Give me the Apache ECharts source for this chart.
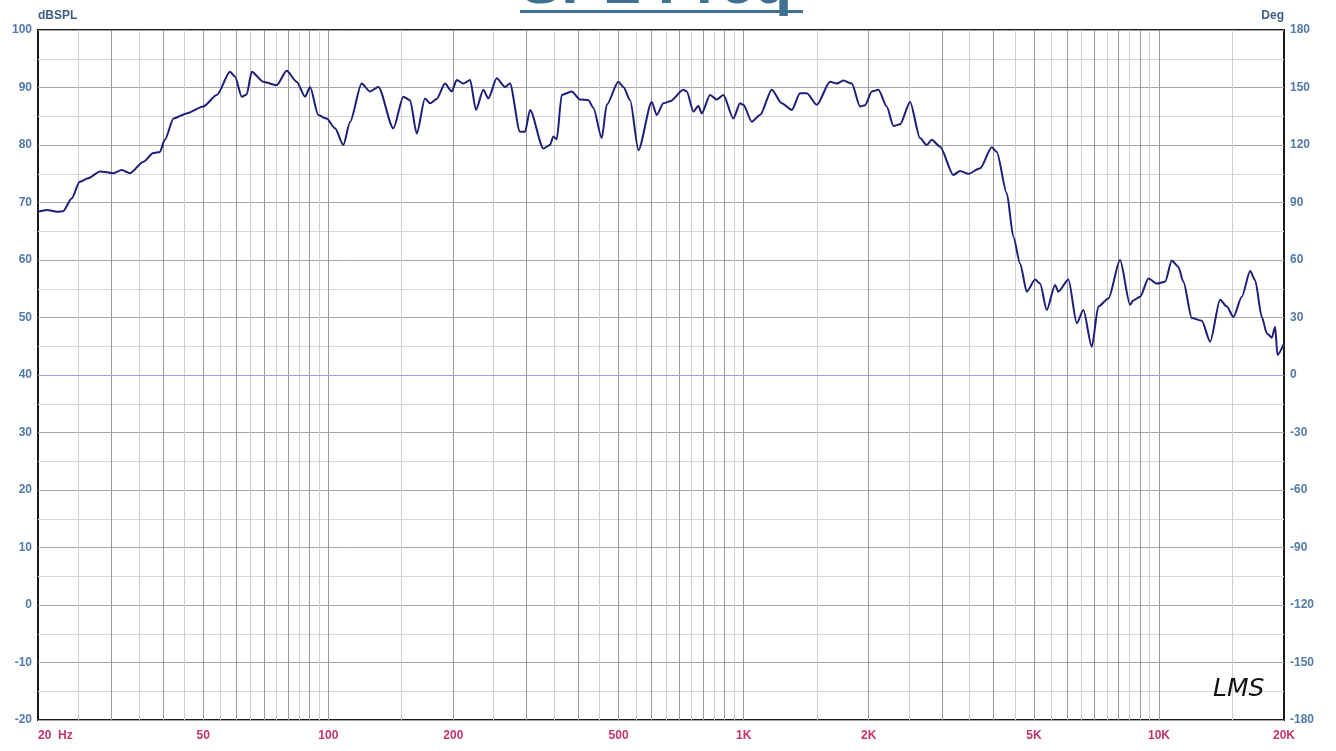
<!DOCTYPE html>
<html><head><meta charset="utf-8">
<script src="https://cdn.jsdelivr.net/npm/echarts@6/dist/echarts.min.js"></script>
<style>html,body{margin:0;padding:0;background:#fff}#c{width:1336px;height:751px}</style>
</head><body><div id="c"></div>
<script>
// Frequency response (Hz) and SPL (dB)
const freqHz = [20,21,22.2,23,24.1,25.2,26.4,28.2,30.4,31.8,33.3,35.9,37.9,39.3,40.4,42.4,45.6,50,53.9,58,59.6,61.9,63.6,65.4,69.7,75.1,79.4,83.9,87.9,90.4,94.6,99.1,103.8,108.7,112.8,120.3,126,132,143.4,151.6,157.3,163.3,170.9,175.8,182.4,191,198.2,203.8,211.4,219.5,226.7,236.2,242.8,254.4,266.4,273.8,289.4,297.6,306,329.4,341.8,348.2,354.8,364.8,385.6,403.8,422.8,434.6,455.4,468.2,499.2,513.4,533,558,600.8,617.8,640.8,665,715.8,729.6,756.8,778,792.8,830.2,861.6,893.6,944.6,980.2,998.4,1046,1095,1169,1235,1306,1367,1419,1500,1615,1676,1738,1821,1907,1960,2035,2111,2211,2294,2380,2516,2659,2760,2837,2971,3199,3320,3477,3709,3958,4069,4301,4461,4630,4805,5032,5173,5368,5621,5726,6052,6341,6577,6890,7147,7555,8060,8520,8679,9007,9431,9880,10345,10736,11136,11450,11996,12681,13278,14034,14567,15110,15830,16576,17041,17685,18183,18693,19041,19284,20000];
const splDb = [68.4,68.7,68.4,68.5,70.7,73.6,74.2,75.4,75.1,75.65,75.1,77.1,78.6,78.8,80.9,84.6,85.5,86.7,88.7,92.75,91.9,88.4,88.8,92.75,91.0,90.4,92.9,91.0,88.4,90.1,85.2,84.6,82.9,80.0,84.0,90.7,89.3,90.1,82.9,88.4,87.8,82.0,88.1,87.25,88,90.7,89.3,91.3,90.7,91.3,86.1,89.6,88.1,91.6,90.1,90.7,82.3,82.3,86.1,79.4,80.0,81.5,81.0,88.7,89.3,87.9,87.8,86.5,81.2,87.0,91.0,90.1,87.8,79.1,87.5,85.2,87.25,87.6,89.6,89.3,85.8,86.8,85.5,88.7,87.9,88.7,84.6,87.25,87.0,84.05,85.2,89.6,87.25,86.1,89.0,89.0,87.0,91.0,90.7,91.2,90.7,86.7,86.9,89.3,89.6,86.7,83.3,83.6,87.5,81.2,80.0,80.9,79.7,74.8,75.5,75.0,75.95,79.6,78.8,71.6,64.05,59.4,54.5,56.6,55.9,51.3,55.65,54.5,56.6,49.0,51.3,44.9,51.9,53.3,60.0,52.2,53.0,53.6,56.8,55.9,56.2,59.9,58.8,56.2,49.9,49.45,45.8,53.1,51.9,50.1,53.6,58.1,56.5,50.1,47.25,46.5,48.4,43.5,45.5];

const xLabelFreqs = [20,50,100,200,500,1000,2000,5000,10000,20000];
const xLabelTexts = ['20  Hz','50','100','200','500','1K','2K','5K','10K','20K'];
const majorGridHz = [30,40,50,60,70,80,90,100,200,300,400,500,600,700,800,900,1000,2000,3000,4000,5000,6000,7000,8000,9000,10000];
const minorGridHz = [25,35,45,55,65,75,85,95,150,250,350,450,550,650,750,850,950,1500,2500,3500,4500,5500,6500,7500,8500,9500,15000];
const splRange = [-20,100];
const degRange = [-180,180];
const zeroDegSpl = 40;

const chart = echarts.init(document.getElementById('c'), null, {renderer:'canvas'});
const labelFont = {fontFamily:'Liberation Sans, Arial, sans-serif', fontWeight:'bold', fontSize:12};
function xLabel(v){
  let best = 0, bd = 1e9;
  xLabelFreqs.forEach((f,i)=>{const d=Math.abs(Math.log(v/f)); if(d<bd){bd=d;best=i;}});
  return bd < 0.01 ? xLabelTexts[best] : '';
}
const option = {
  animation:false,
  backgroundColor:'#ffffff',
  grid:{left:38,right:52,top:30,bottom:31,show:true,borderColor:'#1a1a1a',borderWidth:2,backgroundColor:'transparent'},
  xAxis:{
    type:'log', logBase:10, min:20, max:20000,
    axisLine:{show:false}, axisTick:{show:false},
    splitLine:{show:false},
    axisLabel:{show:true, customValues:xLabelFreqs, formatter:xLabel, color:'#c4336c', margin:10,
      alignMinLabel:'left', alignMaxLabel:'center', showMinLabel:true, showMaxLabel:true, ...labelFont}
  },
  yAxis:[{
    type:'value', min:splRange[0], max:splRange[1], interval:10,
    name:'dBSPL', nameLocation:'end', nameGap:8,
    nameTextStyle:{align:'left', color:'#3d5d85', ...labelFont, fontSize:12},
    axisLine:{show:false}, axisTick:{show:false},
    axisLabel:{color:'#5279a8', margin:6, ...labelFont},
    splitLine:{show:true, lineStyle:{color:'#a6a6a6', width:1}},
    minorTick:{show:false, splitNumber:2},
    minorSplitLine:{show:true, lineStyle:{color:'#d8d8d8', width:1}}
  },{
    type:'value', min:degRange[0], max:degRange[1], interval:30, position:'right',
    name:'Deg', nameLocation:'end', nameGap:8,
    nameTextStyle:{align:'right', color:'#3d5d85', ...labelFont, fontSize:12},
    axisLine:{show:false}, axisTick:{show:false},
    axisLabel:{color:'#5279a8', margin:6, ...labelFont},
    splitLine:{show:false}
  }],
  graphic:[
    {type:'text', left:520, top:-45, z:10, style:{text:'SPL Freq', font:'bold 62px "Liberation Sans", Arial, sans-serif', fill:'#3e7192'}},
    {type:'rect', shape:{x:520, y:10, width:283, height:3}, style:{fill:'#3e7192'}, z:10},
    {type:'text', left:1213, top:677, z:10, style:{text:'LMS', font:'italic 25px "DejaVu Sans", sans-serif', fill:'#111'}}
  ],
  series:[
    {type:'line', name:'minorGrid', data:[], silent:true, z:1,
      markLine:{silent:true, symbol:'none', label:{show:false}, animation:false,
        lineStyle:{color:'#cfcfcf', width:1, type:'solid'},
        data:minorGridHz.map(f=>({xAxis:f}))}},
    {type:'line', name:'majorGrid', data:[], silent:true, z:2,
      markLine:{silent:true, symbol:'none', label:{show:false}, animation:false,
        lineStyle:{color:'#9a9a9a', width:1, type:'solid'},
        data:majorGridHz.map(f=>({xAxis:f}))}},
    {type:'line', name:'zeroDeg', data:[], silent:true, z:3,
      markLine:{silent:true, symbol:'none', label:{show:false}, animation:false,
        lineStyle:{color:'#9c9ce4', width:1, type:'solid'},
        data:[{yAxis:zeroDegSpl}]}},
    {type:'line', name:'SPL', data:freqHz.map((f,i)=>[f,splDb[i]]), showSymbol:false, symbol:'none',
      z:5, lineStyle:{color:'#1d1d7a', width:2}, smooth:0.25, smoothMonotone:'x'}
  ]
};
chart.setOption(option);
</script></body></html>
